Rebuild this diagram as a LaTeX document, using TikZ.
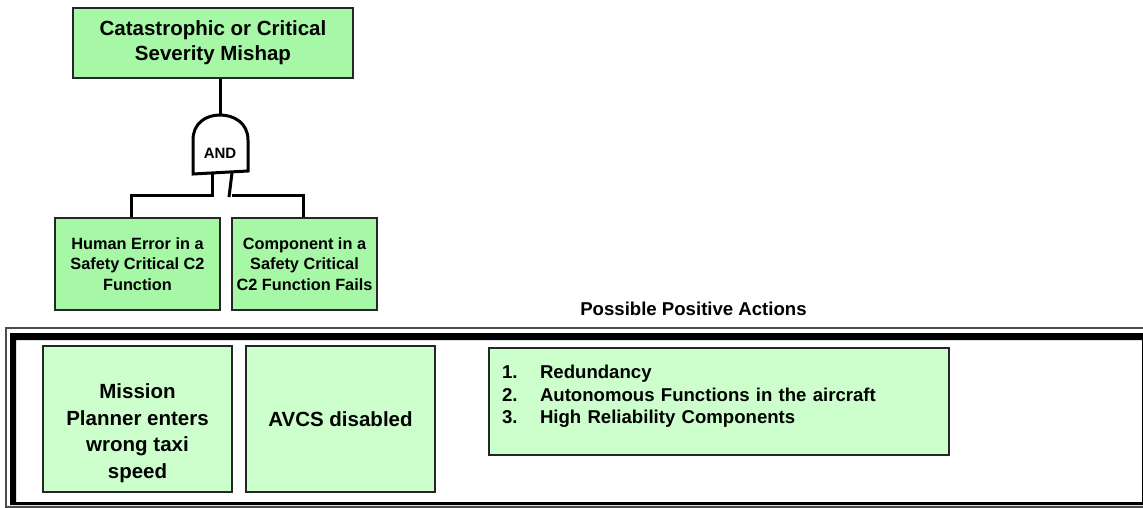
\documentclass[tikz,border=0pt]{standalone}
\usepackage{fontspec}
\setmainfont{Liberation Sans}
\definecolor{evgreen}{RGB}{166,247,166}
\definecolor{actgreen}{RGB}{204,255,204}
\begin{document}
\begin{tikzpicture}[x=1pt,y=-1pt,
    event/.style={draw=black!85,line width=1.2pt,fill=evgreen,inner sep=0pt,align=center},
    action/.style={draw=black!85,line width=1.2pt,fill=actgreen,inner sep=0pt,align=center},
    wire/.style={line width=3pt}]
    \useasboundingbox (0,0) rectangle (1143,508);
    % frame round the actions
    \draw[line width=1.5pt,black!70] (1143,328) -| (6,507) -- (1143,507);
    \fill[even odd rule] (10,333) rectangle (1150,505) (16,340) rectangle (1142,502);
    % tree
    \node[event,minimum width=280pt,minimum height=70pt,font=\fontsize{20.5}{25}\selectfont\bfseries]
        (mishap) at (213,43) {Catastrophic or Critical\\Severity Mishap};
    \node[event,minimum width=165pt,minimum height=92pt,font=\fontsize{16.3}{20.5}\selectfont\bfseries]
        (human) at (137.5,264) {Human Error in a\\Safety Critical C2\\Function};
    \node[event,minimum width=145pt,minimum height=92pt,font=\fontsize{16.3}{20.5}\selectfont\bfseries]
        (comp) at (304.5,264) {Component in a\\Safety Critical\\C2 Function Fails};
    \coordinate (gtop) at (220,115);
    \coordinate (gl) at (212,173);
    \coordinate (gr) at (232,173);
    \draw[wire] (mishap.south -| gtop) -- (gtop);
    \draw[wire,fill=white] (193,174) -- (193,140) .. controls (193,123) and (206,115) .. (gtop)
        .. controls (234,115) and (248,123) .. (248,140) -- (248,171) -- cycle;
    \node[font=\fontsize{15}{15}\selectfont\bfseries] (and) at (220,153) {AND};
    \draw[wire] (gl) -- ++(0,22) -| ([xshift=-6.5pt]human.north);
    \draw[wire] (gr) -- ++(-3,24);
    \draw[wire] (gr |- 0,195) -| ([xshift=-1.5pt]comp.north);
    % actions
    \node[font=\fontsize{18.6}{22}\selectfont\bfseries] (title) at (693.5,309) {Possible Positive Actions};
    \node[action,minimum width=189pt,minimum height=146pt] (mission) at (137.5,419) {};
    \node[font=\fontsize{20.5}{26.5}\selectfont\bfseries,align=center] (missiontxt)
        at ([yshift=-14pt]mission.center) {Mission\\Planner enters\\wrong taxi\\speed};
    \node[action,minimum width=189pt,minimum height=146pt,font=\fontsize{20.5}{26.5}\selectfont\bfseries]
        (avcs) at (340.5,419) {AVCS disabled};
    \node[action,text width=434pt,inner xsep=13pt,minimum height=107pt,align=left,
        font=\fontsize{18.6}{22.5}\selectfont\bfseries] (list) at (719,401.5)
        {\begin{tabular}{@{}p{38pt}@{}l@{}}
            1. & Redundancy\\
            2. & Autonomous Functions in the aircraft\\
            3. & High Reliability Components\\[10pt]
         \end{tabular}};
\end{tikzpicture}
\end{document}
